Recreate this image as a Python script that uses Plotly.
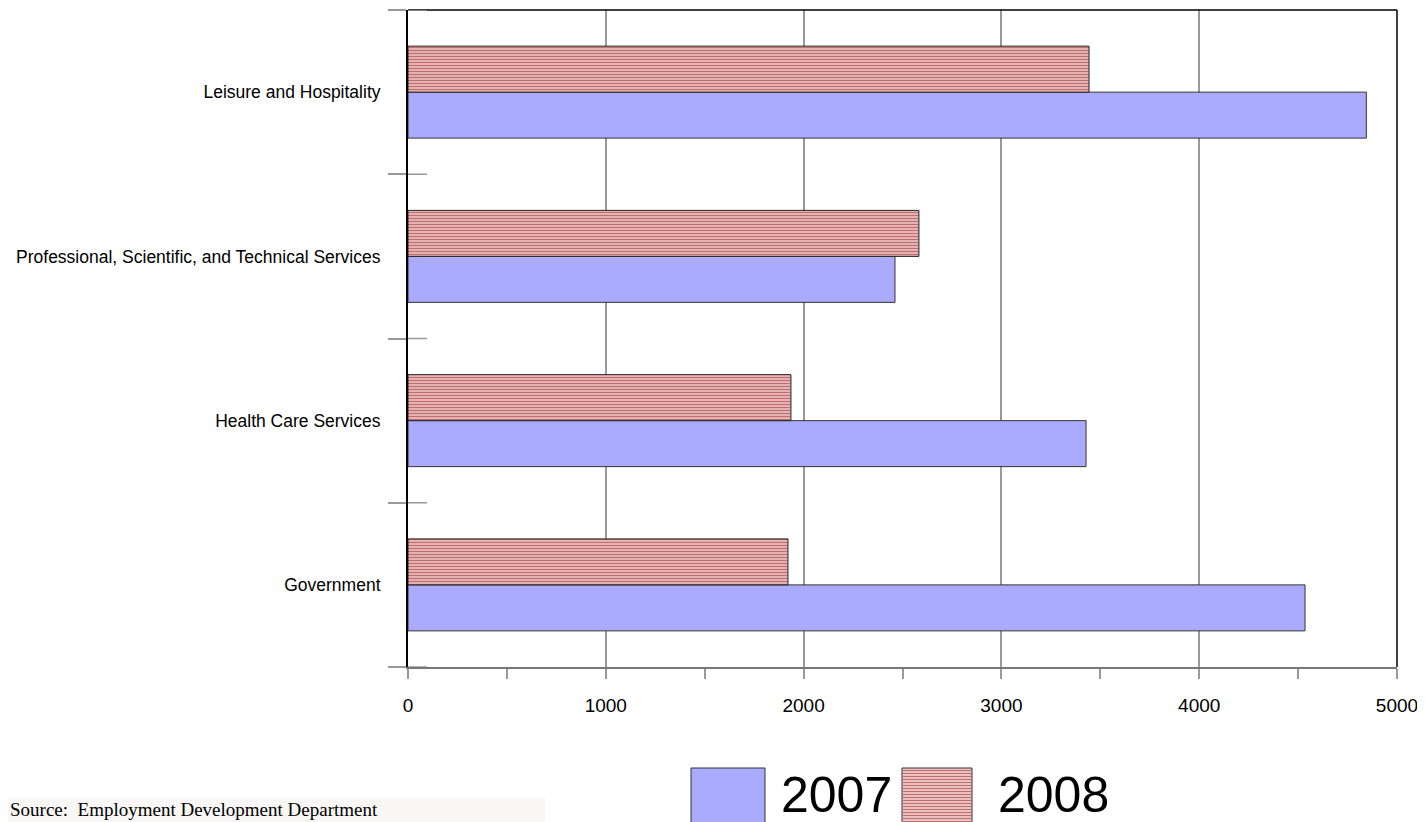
import plotly.graph_objects as go

categories = ["Government", "Health Care Services",
              "Professional, Scientific, and Technical Services",
              "Leisure and Hospitality"]
values_2007 = [4535, 3428, 2462, 4845]
values_2008 = [1921, 1936, 2583, 3443]
series_names = ["2007", "2008"]
x_tick_vals = [0, 1000, 2000, 3000, 4000, 5000]
source_text = "Source:  Employment Development Department"

W, H = 1425, 822
OX, OY = 8, 8  # page offset of the figure inside the window
L, R, T, B = 400, 36, 2, 163
PW = W - L - R
PH = H - T - B


def px(x):
    return (x - OX - L) / PW


def py(y):
    return (H - B - (y - OY)) / PH


fig = go.Figure()
fig.add_trace(go.Bar(
    y=categories, x=values_2007, name=series_names[0], orientation="h",
    marker=dict(color="#aaaaff", line=dict(color="#333333", width=1)),
))
fig.add_trace(go.Bar(
    y=categories, x=values_2008, name=series_names[1], orientation="h",
    marker=dict(color="#e9b7b7", line=dict(color="#222222", width=1),
                pattern=dict(shape="-", size=3, solidity=0.45,
                             fgcolor="#bf6f6f", bgcolor="#edc0c0",
                             fillmode="replace")),
))

shapes = []
# top and right frame
shapes.append(dict(type="line", xref="paper", yref="paper", x0=0, x1=1, y0=1, y1=1,
                   line=dict(color="black", width=1.5)))
shapes.append(dict(type="line", xref="paper", yref="paper", x0=1, x1=1, y0=0, y1=1,
                   line=dict(color="black", width=1.5)))
# inner part of category boundary ticks
for b in [-0.5, 0.5, 1.5, 2.5, 3.5]:
    shapes.append(dict(type="line", xref="paper", yref="y", x0=0, x1=px(427),
                       y0=b, y1=b, line=dict(color="#999999", width=1.5)))
# source background box
shapes.append(dict(type="rect", xref="paper", yref="paper", x0=px(0), x1=px(545),
                   y0=py(798), y1=py(840), fillcolor="#f8f7f5", line=dict(width=0),
                   layer="below"))
# legend boxes
shapes.append(dict(type="rect", xref="paper", yref="paper", x0=px(691), x1=px(765),
                   y0=py(768), y1=py(840), fillcolor="#aaaaff",
                   line=dict(color="#333333", width=1)))
shapes.append(dict(type="rect", xref="paper", yref="paper", x0=px(902), x1=px(972),
                   y0=py(768), y1=py(840), fillcolor="#edc0c0",
                   line=dict(color="#333333", width=1)))
path = ""
yy = 770.5
while yy < 822:
    path += f"M {px(903)},{py(yy)} L {px(971)},{py(yy)} "
    yy += 3
shapes.append(dict(type="path", xref="paper", yref="paper", path=path,
                   line=dict(color="#bf6f6f", width=1)))

annotations = [
    dict(xref="paper", yref="paper", x=px(8), y=py(797), xanchor="left", yanchor="top",
         text=source_text, showarrow=False,
         font=dict(family="Liberation Serif, Times New Roman, serif", size=19, color="black")),
    dict(xref="paper", yref="paper", x=px(779), y=py(795), xanchor="left", yanchor="middle",
         text=series_names[0], showarrow=False,
         font=dict(family="Liberation Sans, Arial, sans-serif", size=50, color="black")),
    dict(xref="paper", yref="paper", x=px(996), y=py(795), xanchor="left", yanchor="middle",
         text=series_names[1], showarrow=False,
         font=dict(family="Liberation Sans, Arial, sans-serif", size=50, color="black")),
]

fig.update_layout(
    width=W, height=H,
    margin=dict(l=L, r=R, t=T, b=B, autoexpand=False),
    paper_bgcolor="white", plot_bgcolor="white",
    barmode="group", bargap=0.44, bargroupgap=0,
    showlegend=False,
    font=dict(family="Liberation Sans, Arial, sans-serif", color="black"),
    shapes=shapes, annotations=annotations,
    xaxis=dict(range=[0, 5000], tickvals=x_tick_vals, showgrid=True, gridcolor="#999999",
               gridwidth=1.5, zeroline=False, showline=True, linecolor="#777777", linewidth=1.5,
               ticks="outside", ticklen=10, tickcolor="#999999", tickwidth=1.5,
               minor=dict(dtick=500, tick0=0, ticks="outside", ticklen=10,
                          tickcolor="#999999", tickwidth=1.5, showgrid=False),
               tickfont=dict(size=19), ticklabelstandoff=10),
    yaxis=dict(range=[-0.5, 3.5], showgrid=False, zeroline=False, showline=True,
               linecolor="black", linewidth=2, ticks="outside", tickson="boundaries",
               ticklen=18, tickcolor="#999999", tickwidth=1.5,
               tickfont=dict(size=17.5), ticklabelstandoff=22),
)

fig.write_html("out.html")
